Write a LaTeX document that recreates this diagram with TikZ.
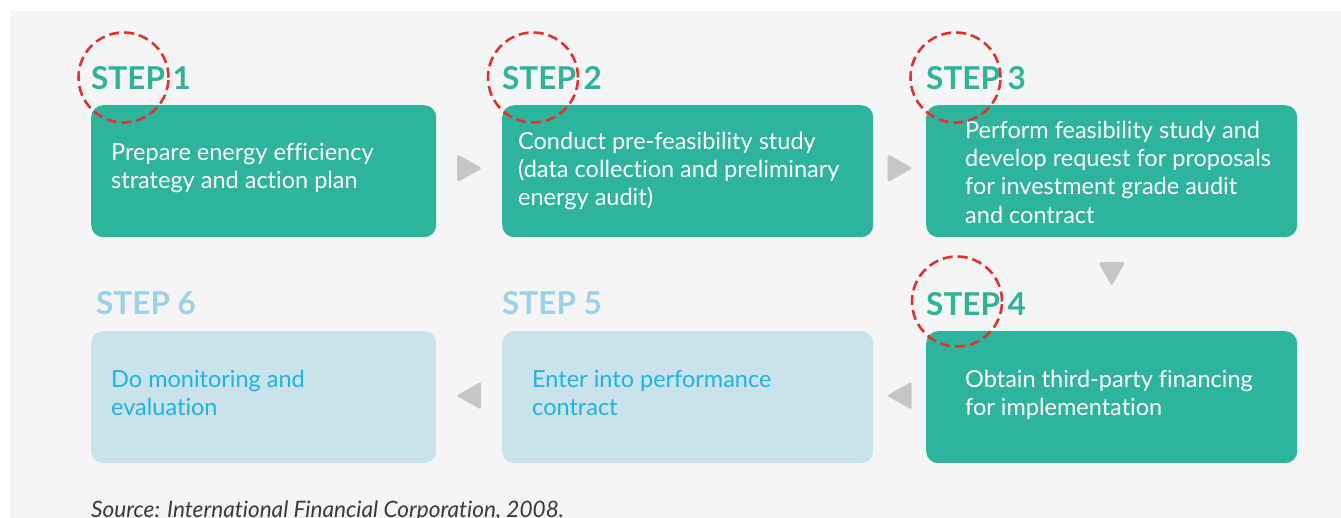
\documentclass[tikz,border=0pt]{standalone}
\usepackage{fontspec}
\setmainfont{Lato}[Ligatures=NoCommon]
\usetikzlibrary{calc}
\definecolor{bgcol}{HTML}{F5F5F5}
\definecolor{tealbox}{HTML}{2EB49C}
\definecolor{tealtext}{HTML}{2EB39B}
\definecolor{lbbox}{HTML}{C9E2EC}
\definecolor{lbtext}{HTML}{1FB4DF}
\definecolor{lblabel}{HTML}{9DD1E5}
\definecolor{redc}{HTML}{E2322F}
\definecolor{arrowcol}{HTML}{C6C6C6}
\definecolor{srccol}{HTML}{3A3A3A}
\newcommand{\fl}{\rule{0pt}{20pt}}
\begin{document}
\begin{tikzpicture}[x=1pt,y=-1pt,
  boxbase/.style={rectangle, rounded corners=12pt, minimum height=132, anchor=north west, inner sep=0pt},
  activebox/.style={boxbase, fill=tealbox},
  passivebox/.style={boxbase, fill=lbbox},
  steplabel/.style={anchor=base west, inner sep=0pt, font=\fontsize{31.5}{38}\selectfont\bfseries, text=tealtext},
  steplabelp/.style={steplabel, text=lblabel},
  bodytext/.style={anchor=north west, inner sep=0pt, align=left, font=\fontsize{23.5}{28.3}\selectfont, text=white},
  bodytextp/.style={bodytext, text=lbtext},
  redcirc/.style={circle, draw=redc, line width=2.6pt, dash pattern=on 10pt off 5pt, minimum size=90pt, inner sep=0pt},
  arrowtri/.pic={\fill[arrowcol, rounded corners=2.5pt] (-12,-14) -- (13,0) -- (-12,14) -- cycle;}
]
\useasboundingbox (0,0) rectangle (1341,518);
\fill[bgcol] (10,11) rectangle (1341,518);

% boxes
\node[activebox, minimum width=345] (b1) at (91,105) {};
\node[activebox, minimum width=371] (b2) at (502,105) {};
\node[activebox, minimum width=371] (b3) at (926,105) {};
\node[activebox, minimum width=371] (b4) at (926,331) {};
\node[passivebox, minimum width=371] (b5) at (502,331) {};
\node[passivebox, minimum width=345] (b6) at (91,331) {};

% step labels
\node[steplabel] (s1) at (91,90) {STEP 1};
\node[steplabel] (s2) at (502,90) {STEP 2};
\node[steplabel] (s3) at (926,90) {STEP 3};
\node[steplabel] (s4) at (926,316) {STEP 4};
\node[steplabelp] (s5) at (502,315) {STEP 5};
\node[steplabelp] (s6) at (96,315) {STEP 6};

% body texts
\node[bodytext] (t1) at (111,140) {\fl Prepare energy efficiency\\strategy and action plan};
\node[bodytext] (t2) at (518,129) {\fl Conduct pre-feasibility study\\(data collection and preliminary\\energy audit)};
\node[bodytext] (t3) at (965,118) {\fl Perform feasibility study and\\develop request for proposals\\for investment grade audit\\and contract};
\node[bodytext] (t4) at (965,367) {\fl Obtain third-party financing\\for implementation};
\node[bodytextp] (t5) at (532,367) {\fl Enter into performance\\contract};
\node[bodytextp] (t6) at (111,367) {\fl Do monitoring and\\evaluation};

% red dashed circles
\node[redcirc] (c1) at ($(s1.base west)+(32.5,-12.5)$) {};
\node[redcirc] (c2) at ($(s2.base west)+(31,-12.5)$) {};
\node[redcirc] (c3) at ($(s3.base west)+(29.5,-12.5)$) {};
\node[redcirc] (c4) at ($(s4.base west)+(31,-14.5)$) {};

% arrows between boxes
\coordinate (a12) at ($(b1.east)!0.5!(b2.west)+(0,-3)$);
\coordinate (a23) at ($(b2.east)!0.5!(b3.west)+(0,-3)$);
\coordinate (a34) at ($(b3.south)!0.5!(b4.north)+(0,-10.5)$);
\coordinate (a45) at ($(b4.west)!0.5!(b5.east)+(0,-1.5)$);
\coordinate (a56) at ($(b5.west)!0.5!(b6.east)+(0,-1.5)$);
\pic at (a12) {arrowtri};
\pic at (a23) {arrowtri};
\pic[rotate=-90, xscale=0.96, yscale=0.96] at (a34) {arrowtri};
\pic[rotate=180] at (a45) {arrowtri};
\pic[rotate=180] at (a56) {arrowtri};

% source
\node[anchor=base west, inner sep=0pt, font=\fontsize{22.6}{26}\selectfont\itshape, text=srccol] (src) at (91,517.5) {Source: International Financial Corporation, 2008.};
\end{tikzpicture}
\end{document}
